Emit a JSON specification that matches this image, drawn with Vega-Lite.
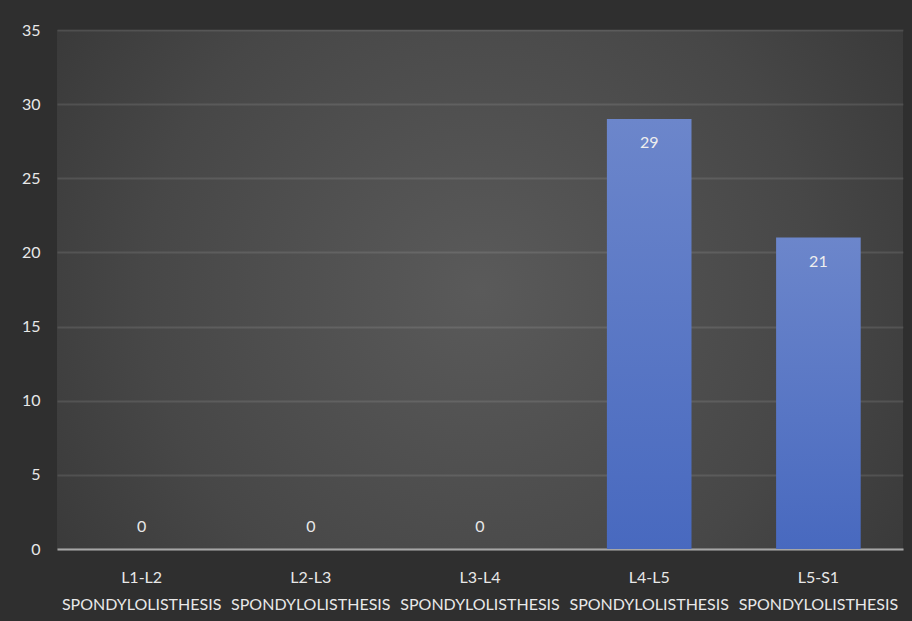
{
  "$schema": "https://vega.github.io/schema/vega-lite/v6.json",
  "width": 846,
  "height": 519,
  "autosize": {"type": "none"},
  "padding": {"left": 57, "top": 30, "right": 9, "bottom": 72},
  "background": "#2f2f2f",
  "config": {
    "font": "Lato",
    "view": {
      "stroke": null,
      "fill": {
        "gradient": "radial",
        "x1": 0.5, "y1": 0.5, "r1": 0,
        "x2": 0.5, "y2": 0.5, "r2": 0.72,
        "stops": [
          {"offset": 0, "color": "#5a5a5a"},
          {"offset": 0.55, "color": "#474747"},
          {"offset": 1, "color": "#313131"}
        ]
      }
    }
  },
  "data": {
    "values": [
      {"level": "L1-L2 SPONDYLOLISTHESIS", "count": 0},
      {"level": "L2-L3 SPONDYLOLISTHESIS", "count": 0},
      {"level": "L3-L4 SPONDYLOLISTHESIS", "count": 0},
      {"level": "L4-L5 SPONDYLOLISTHESIS", "count": 29},
      {"level": "L5-S1 SPONDYLOLISTHESIS", "count": 21}
    ]
  },
  "encoding": {
    "x": {
      "field": "level",
      "type": "nominal",
      "sort": null,
      "scale": {"paddingInner": 0.5, "paddingOuter": 0.25},
      "axis": {
        "title": null,
        "labelAngle": 0,
        "labelExpr": "split(datum.label, ' ')",
        "labelFont": "Lato",
        "labelFontSize": 16,
        "labelColor": "#e8e8e8",
        "labelLineHeight": 27,
        "labelPadding": 20,
        "ticks": false,
        "domainColor": "#a6a6a6",
        "domainWidth": 2
      }
    },
    "y": {
      "field": "count",
      "type": "quantitative",
      "scale": {"domain": [0, 35], "nice": false},
      "axis": {
        "title": null,
        "values": [0, 5, 10, 15, 20, 25, 30, 35],
        "labelFont": "Lato",
        "labelFontSize": 16,
        "labelColor": "#e8e8e8",
        "labelPadding": 17,
        "domain": false,
        "ticks": false,
        "gridColor": "#ffffff",
        "gridOpacity": 0.1,
        "gridWidth": 2
      }
    }
  },
  "layer": [
    {
      "mark": {
        "type": "bar",
        "color": {
          "gradient": "linear",
          "x1": 0, "y1": 0, "x2": 0, "y2": 1,
          "stops": [
            {"offset": 0, "color": "#6c86cb"},
            {"offset": 1, "color": "#4869bf"}
          ]
        }
      }
    },
    {
      "transform": [{"filter": "datum.count > 0"}],
      "mark": {"type": "text", "baseline": "alphabetic", "dy": 29, "fontSize": 16, "font": "Lato", "color": "#eeeeee"},
      "encoding": {"text": {"field": "count", "type": "quantitative"}}
    },
    {
      "transform": [{"filter": "datum.count == 0"}],
      "mark": {"type": "text", "baseline": "alphabetic", "dy": -17, "fontSize": 16, "font": "Lato", "color": "#e8e8e8"},
      "encoding": {"text": {"field": "count", "type": "quantitative"}}
    }
  ]
}
